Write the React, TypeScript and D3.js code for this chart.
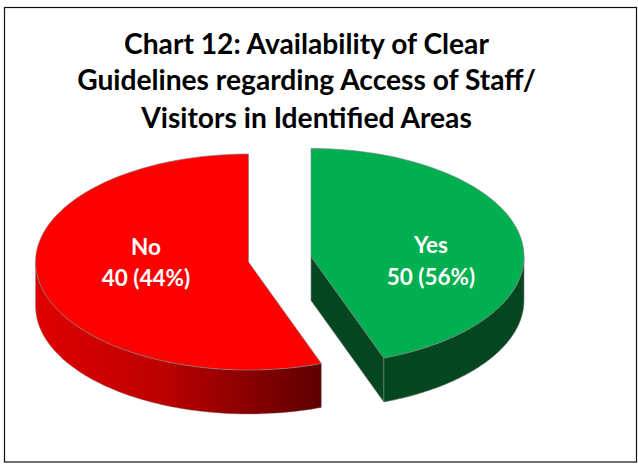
import React from "react";
import * as d3 from "d3";

const titleLines = [
  "Chart 12: Availability of Clear",
  "Guidelines regarding Access of Staff/",
  "Visitors in Identified Areas",
];
const categories = ["Yes", "No"];
// Labels as printed in the picture
const printedCounts = [50, 40];
const printedPercents = [56, 44];
// Slice sizes as drawn in the picture (the Yes wedge is the narrower one)
const drawnSizes = [40, 50];
const sliceColors = ["#00b050", "#ff0000"];

const RX = 213;
const RY = 108;
const DEPTH = 44;
const centres = [
  { x: 311, y: 256.5 },
  { x: 248.5, y: 262 },
];
const labelPos = [
  { x: 431, y1: 253, y2: 285 },
  { x: 146, y1: 255, y2: 286 },
];

const pie = d3.pie<number>().sort(null).startAngle(0).endAngle(2 * Math.PI);
const arcs = pie(drawnSizes);

const px = (c: { x: number; y: number }, a: number, dy = 0): [number, number] => [
  c.x + RX * Math.sin(a),
  c.y - RY * Math.cos(a) + dy,
];
const samples = (a0: number, a1: number) => {
  const n = 80;
  return d3.range(n + 1).map((i) => a0 + ((a1 - a0) * i) / n);
};
const line = d3.line();

const topPath = (c: { x: number; y: number }, a0: number, a1: number) =>
  line([[c.x, c.y], ...samples(a0, a1).map((a) => px(c, a))]) + "Z";
const wallPath = (c: { x: number; y: number }, a0: number, a1: number) =>
  line([
    ...samples(a0, a1).map((a) => px(c, a)),
    ...samples(a0, a1).reverse().map((a) => px(c, a, DEPTH)),
  ]) + "Z";
const cutPath = (c: { x: number; y: number }, a: number) =>
  line([[c.x, c.y], px(c, a), px(c, a, DEPTH), [c.x, c.y + DEPTH]]) + "Z";

const edge = "#7f7f7f";

export default function App() {
  const yes = arcs[0];
  const no = arcs[1];
  const cy = centres[0];
  const cn = centres[1];
  return (
    <svg
      width={638}
      height={466}
      style={{ position: "fixed", left: 0, top: 0, background: "#fff" }}
    >
      <defs>
        <linearGradient id="noWall" gradientUnits="userSpaceOnUse" x1={36} x2={321} y1={0} y2={0}>
          <stop offset="0" stopColor="#e00000" />
          <stop offset="0.45" stopColor="#bb0000" />
          <stop offset="1" stopColor="#5e0000" />
        </linearGradient>
      </defs>
      <rect x={4.5} y={7.5} width={632} height={454.5} fill="#fff" stroke="#111" strokeWidth={1.2} />

      {/* Yes wedge */}
      <path d={cutPath(cy, yes.endAngle)} fill="#03461f" stroke={edge} strokeWidth={0.6} />
      <path d={wallPath(cy, Math.PI / 2, yes.endAngle)} fill="#03461f" stroke={edge} strokeWidth={0.6} />
      <path d={topPath(cy, yes.startAngle, yes.endAngle)} fill={sliceColors[0]} stroke={edge} strokeWidth={0.6} />

      {/* No wedge */}
      <path d={wallPath(cn, no.startAngle, (3 * Math.PI) / 2)} fill="url(#noWall)" stroke={edge} strokeWidth={0.4} />
      <path d={topPath(cn, no.startAngle, no.endAngle)} fill={sliceColors[1]} stroke={edge} strokeWidth={0.6} />

      <g fontFamily="Lato, 'Open Sans', sans-serif" fontWeight={700} textAnchor="middle">
        {titleLines.map((t, i) => (
          <text key={t} x={306.5} y={[54, 90, 127.5][i]} fontSize={28.2} fill="#000">
            {t}
          </text>
        ))}
        {categories.map((c, i) => (
          <g key={c} fill="#fff" fontSize={22.5}>
            <text x={labelPos[i].x} y={labelPos[i].y1}>{c}</text>
            <text x={labelPos[i].x} y={labelPos[i].y2}>
              {`${printedCounts[i]} (${printedPercents[i]}%)`}
            </text>
          </g>
        ))}
      </g>
    </svg>
  );
}
